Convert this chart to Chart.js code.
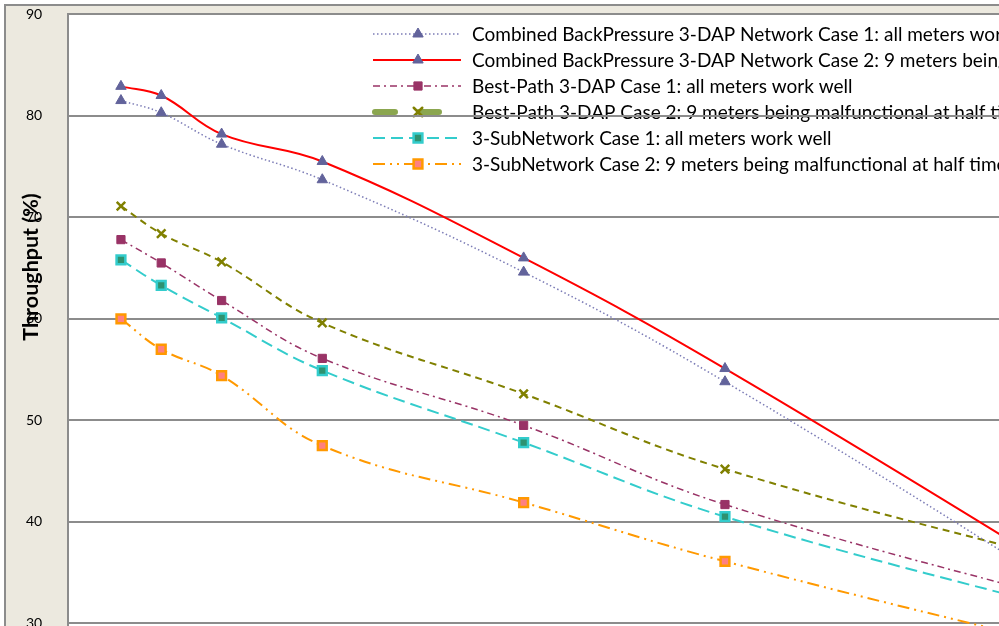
<!DOCTYPE html>
<html>
<head>
<meta charset="utf-8">
<script src="https://cdn.jsdelivr.net/npm/chart.js@4.4.1/dist/chart.umd.min.js"></script>
<style>
html, body { margin: 0; padding: 0; overflow: hidden; background: #fff; }
#wrap { position: absolute; left: 0; top: 0; width: 1200px; height: 740px; }
</style>
</head>
<body>
<div id="wrap"><canvas id="thru" width="1200" height="740"></canvas></div>
<script>
// x positions of the measurement points
const xValues = [2, 4, 7, 12, 22, 32, 52];
const yTicks = [20, 30, 40, 50, 60, 70, 80, 90];

const seriesNames = [
    "Combined BackPressure 3-DAP Network Case 1: all meters work well",
    "Combined BackPressure 3-DAP Network Case 2: 9 meters being malfunctional at half time",
    "Best-Path 3-DAP Case 1: all meters work well",
    "Best-Path 3-DAP Case 2: 9 meters being malfunctional at half time",
    "3-SubNetwork Case 1: all meters work well",
    "3-SubNetwork Case 2: 9 meters being malfunctional at half time"
];

const bpCase1 = [81.5, 80.3, 77.2, 73.7, 64.6, 53.8, 29.4];
const bpCase2 = [82.9, 82.0, 78.2, 75.5, 66.0, 55.1, 31.1];
const bestCase1 = [67.8, 65.5, 61.8, 56.1, 49.5, 41.7, 30.6];
const bestCase2 = [71.1, 68.4, 65.6, 59.6, 52.6, 45.2, 34.5];
const subCase1 = [65.8, 63.3, 60.1, 54.9, 47.8, 40.5, 29.7];
const subCase2 = [60.0, 57.0, 54.4, 47.5, 41.9, 36.1, 26.2];

const GRID = "#8C8C8C";
const PANEL = "#ECE9DF";

function toPoints(values) {
    return values.map((v, i) => ({x: xValues[i], y: v}));
}

function makeSeries(label, values, style) {
    return Object.assign({
        label: label,
        data: toPoints(values),
        fill: false,
        showLine: true,
        tension: 0.4
    }, style);
}

const datasets = [
    makeSeries(seriesNames[0], bpCase1, {
        borderColor: "#7C7CB6", borderWidth: 1.5, borderDash: [1.5, 2.5],
        pointStyle: "triangle", pointRadius: 6,
        pointBackgroundColor: "#62639B", pointBorderColor: "#62639B", pointBorderWidth: 1
    }),
    makeSeries(seriesNames[1], bpCase2, {
        borderColor: "#FF0000", borderWidth: 2,
        pointStyle: "triangle", pointRadius: 6,
        pointBackgroundColor: "#62639B", pointBorderColor: "#62639B", pointBorderWidth: 1
    }),
    makeSeries(seriesNames[2], bestCase1, {
        borderColor: "#993366", borderWidth: 1.5, borderDash: [7, 4, 2, 4],
        pointStyle: "rect", pointRadius: 5.8,
        pointBackgroundColor: "#993366", pointBorderColor: "#993366", pointBorderWidth: 1
    }),
    makeSeries(seriesNames[3], bestCase2, {
        borderColor: "#808000", borderWidth: 2, borderDash: [7, 5],
        pointStyle: "crossRot", pointRadius: 6,
        pointBackgroundColor: "#808000", pointBorderColor: "#808000", pointBorderWidth: 2.5,
        // the legend sample for this series is drawn heavier
        legendLine: {color: "#8BA64F", width: 6, dash: [20, 24], cap: "round", from: 375, to: 440}
    }),
    makeSeries(seriesNames[4], subCase1, {
        borderColor: "#33CCCC", borderWidth: 2, borderDash: [12, 6],
        pointStyle: "rect", pointRadius: 6.2,
        pointBackgroundColor: "#2E9270", pointBorderColor: "#33CCCC", pointBorderWidth: 2.5
    }),
    makeSeries(seriesNames[5], subCase2, {
        borderColor: "#FF9900", borderWidth: 2, borderDash: [12, 5, 2, 5, 2, 5],
        pointStyle: "rect", pointRadius: 6.2,
        pointBackgroundColor: "#FF8080", pointBorderColor: "#FF9900", pointBorderWidth: 2.5
    })
];

// background panel, white plot area and the legend; grid lines go over all of it
const frame = {
    id: "frame",
    beforeDraw(chart) {
        const ctx = chart.ctx;
        const a = chart.chartArea;
        const w = chart.width, h = chart.height;
        ctx.save();
        ctx.fillStyle = "#fff";
        ctx.fillRect(0, 0, w, h);
        ctx.fillStyle = PANEL;
        ctx.fillRect(5, 5, w, h);
        ctx.strokeStyle = GRID;
        ctx.lineWidth = 2;
        ctx.beginPath();
        ctx.moveTo(5, h);
        ctx.lineTo(5, 5);
        ctx.lineTo(w, 5);
        ctx.stroke();
        ctx.fillStyle = "#fff";
        ctx.fillRect(a.left, a.top, a.right - a.left, a.bottom - a.top);

        chart.data.datasets.forEach((ds, i) => {
            const y = 34 + i * 26;
            const s = ds.legendLine || {};
            ctx.save();
            ctx.strokeStyle = s.color || ds.borderColor;
            ctx.lineWidth = s.width || ds.borderWidth;
            ctx.setLineDash(s.dash || ds.borderDash || []);
            ctx.lineCap = s.cap || "butt";
            ctx.beginPath();
            ctx.moveTo(s.from || 373, y);
            ctx.lineTo(s.to || 461, y);
            ctx.stroke();
            ctx.setLineDash([]);
            ctx.fillStyle = ds.pointBackgroundColor;
            ctx.strokeStyle = ds.pointBorderColor;
            ctx.lineWidth = ds.pointBorderWidth;
            Chart.helpers.drawPoint(ctx, {
                pointStyle: ds.pointStyle, radius: ds.pointRadius,
                rotation: 0, borderWidth: ds.pointBorderWidth
            }, 418, y);
            ctx.fillStyle = "#000";
            ctx.font = "19px Lato";
            ctx.textBaseline = "middle";
            ctx.fillText(ds.label, 472, y + 1);
            ctx.restore();
        });
        ctx.restore();
    },
    afterDraw(chart) {
        const ctx = chart.ctx;
        ctx.save();
        ctx.translate(31, 267);
        ctx.rotate(-Math.PI / 2);
        ctx.fillStyle = "#000";
        ctx.font = "bold 21.5px Lato";
        ctx.textAlign = "center";
        ctx.textBaseline = "middle";
        ctx.fillText("Throughput (%)", 0, 0);
        ctx.restore();
    }
};

new Chart("thru", {
    type: "line",
    data: {datasets: datasets},
    plugins: [frame],
    options: {
        responsive: false,
        animation: false,
        devicePixelRatio: 1,
        layout: {padding: {left: 26, top: 14.3, right: 20, bottom: 15.2}},
        plugins: {
            legend: {display: false},
            title: {display: false},
            tooltip: {enabled: false}
        },
        scales: {
            x: {type: "linear", min: -0.63, max: 54.6, display: false},
            y: {
                min: 20,
                max: 90,
                afterBuildTicks: (scale) => {
                    scale.ticks = yTicks.map(v => ({value: v}));
                },
                afterFit: (scale) => {
                    scale.width = 42;
                },
                grid: {color: GRID, lineWidth: 2, drawTicks: false},
                border: {color: GRID, width: 2},
                ticks: {
                    padding: 0,
                    crossAlign: "far",
                    color: "#000",
                    font: {family: "Lato", size: 14}
                }
            }
        }
    }
});
</script>
</body>
</html>
